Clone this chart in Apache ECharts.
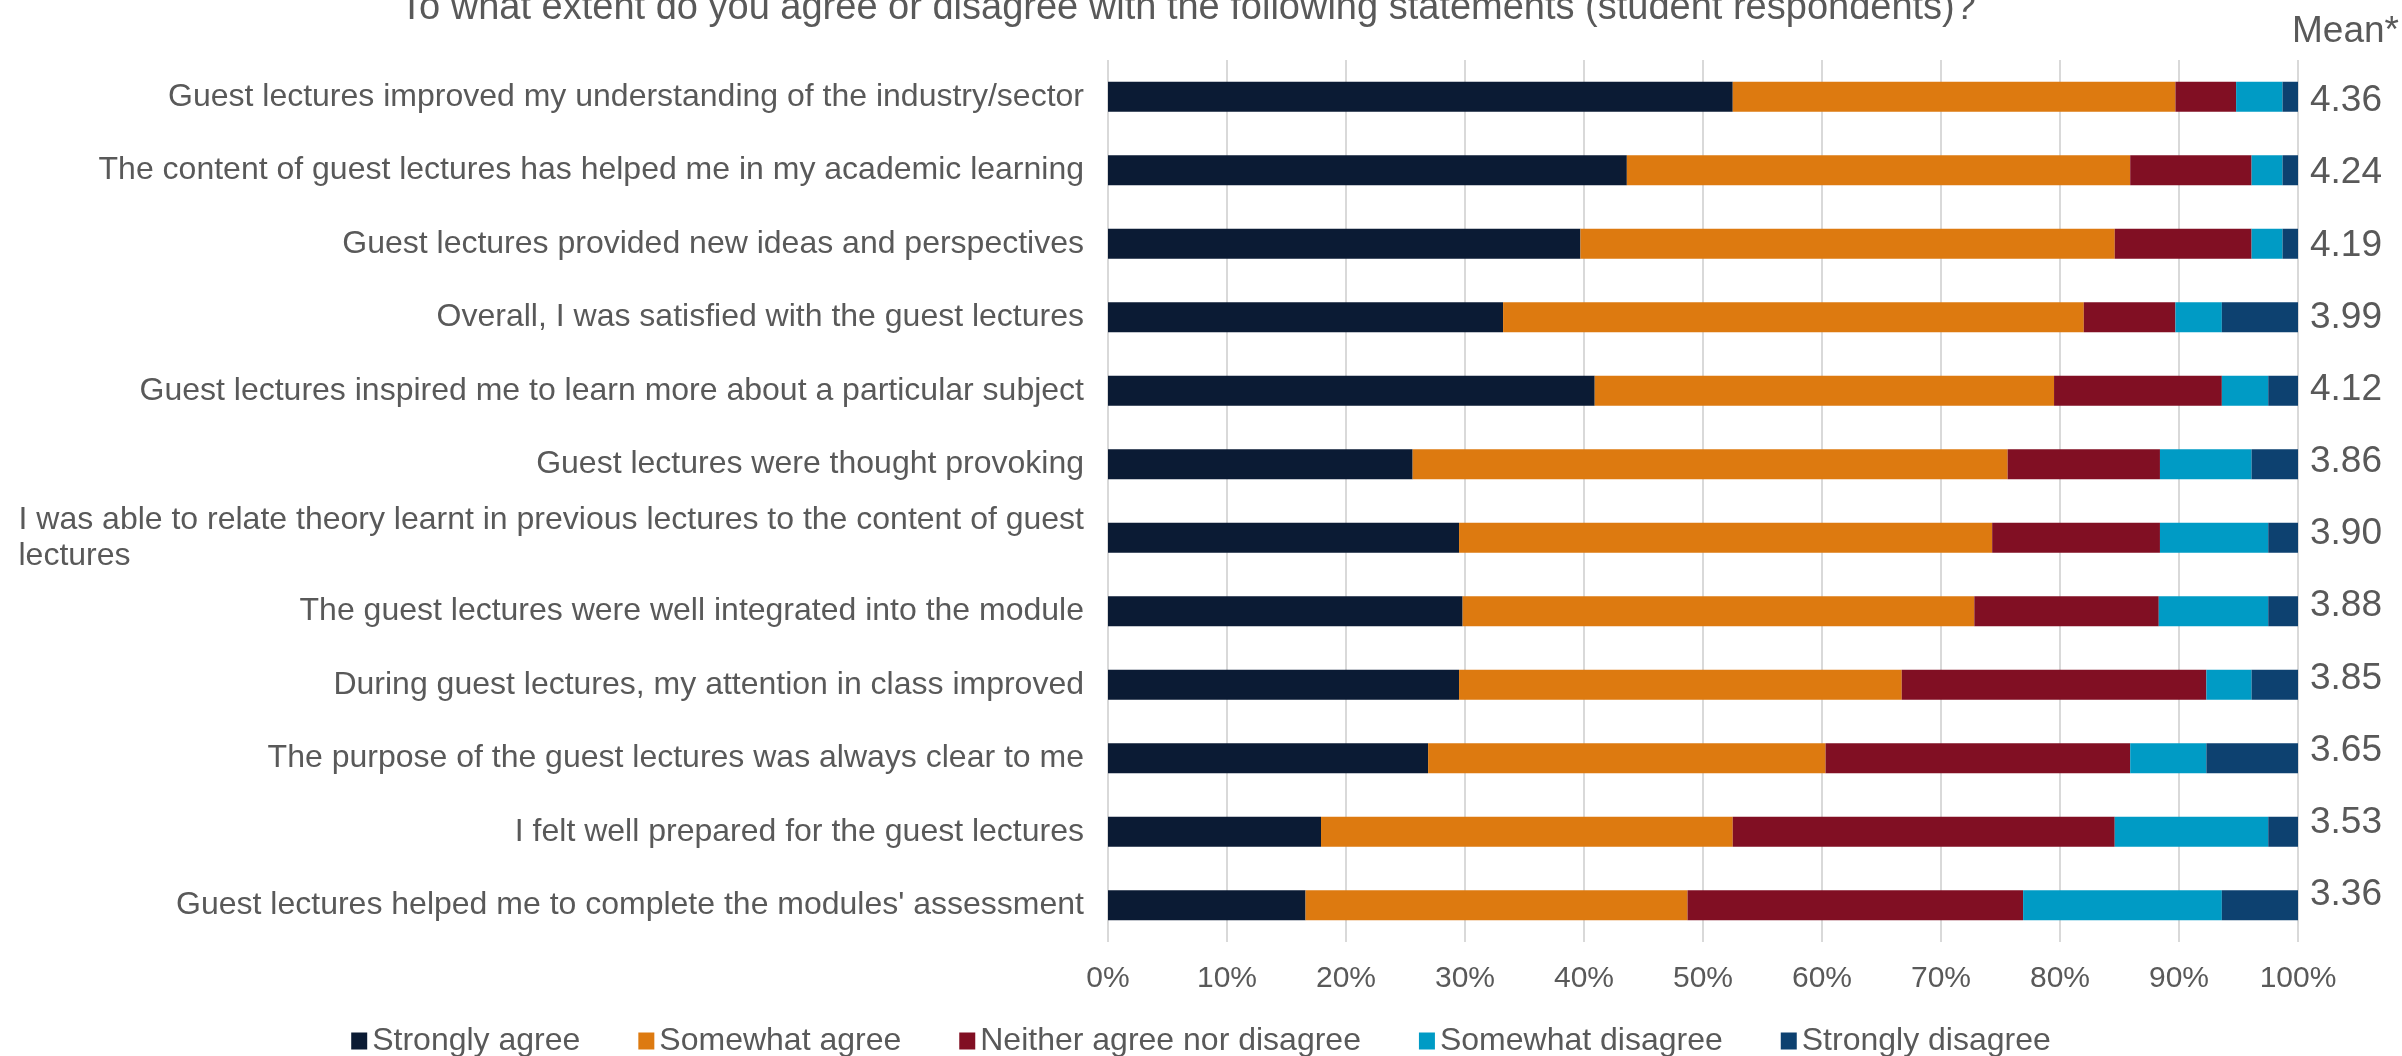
<!DOCTYPE html>
<html>
<head>
<meta charset="utf-8">
<script src="https://cdn.jsdelivr.net/npm/echarts@6/dist/echarts.min.js"></script>
<style>
  html, body { margin: 0; padding: 0; background: #ffffff; }
  #chart { width: 2402px; height: 1056px; }
</style>
</head>
<body>
<div id="chart"></div>
<script>
// Survey statements (top to bottom)
const categories = [
  'Guest lectures improved my understanding of the industry/sector',
  'The content of guest lectures has helped me in my academic learning',
  'Guest lectures provided new ideas and perspectives',
  'Overall, I was satisfied with the guest lectures',
  'Guest lectures inspired me to learn more about a particular subject',
  'Guest lectures were thought provoking',
  'I was able to relate theory learnt in previous lectures to the content of guest\nlectures',
  'The guest lectures were well integrated into the module',
  'During guest lectures, my attention in class improved',
  'The purpose of the guest lectures was always clear to me',
  'I felt well prepared for the guest lectures',
  "Guest lectures helped me to complete the modules' assessment"
];

// Share of responses (%)
const stronglyAgree    = [52.5, 43.6, 39.7, 33.2, 40.9, 25.6, 29.5, 29.8, 29.5, 26.9, 17.9, 16.6];
const somewhatAgree    = [37.2, 42.3, 44.9, 48.8, 38.6, 50.0, 44.8, 43.0, 37.2, 33.4, 34.6, 32.1];
const neither          = [5.1, 10.2, 11.5, 7.7, 14.1, 12.8, 14.1, 15.5, 25.6, 25.6, 32.1, 28.2];
const somewhatDisagree = [3.9, 2.6, 2.6, 3.9, 3.9, 7.7, 9.1, 9.2, 3.8, 6.4, 12.9, 16.7];
const stronglyDisagree = [1.3, 1.3, 1.3, 6.4, 2.5, 3.9, 2.5, 2.5, 3.9, 7.7, 2.5, 6.4];

// Mean score per statement
const means = ['4.36', '4.24', '4.19', '3.99', '4.12', '3.86', '3.90', '3.88', '3.85', '3.65', '3.53', '3.36'];

const seriesNames = ['Strongly agree', 'Somewhat agree', 'Neither agree nor disagree', 'Somewhat disagree', 'Strongly disagree'];
const seriesData = [stronglyAgree, somewhatAgree, neither, somewhatDisagree, stronglyDisagree];
const colors = ['#0B1B34', '#DD7A10', '#810F23', '#009BC5', '#0D4170'];

const FONT = '"Liberation Sans", Arial, sans-serif';
const TEXT = '#595959';

const chart = echarts.init(document.getElementById('chart'), null, { renderer: 'canvas' });

chart.setOption({
  animation: false,
  backgroundColor: '#ffffff',
  color: colors,
  title: {
    text: 'To what extent do you agree or disagree with the following statements (student respondents)?',
    left: 1183,
    textAlign: 'center',
    top: -15,
    textStyle: { fontFamily: FONT, fontSize: 38, fontWeight: 'normal', color: TEXT }
  },
  graphic: [{
    type: 'text',
    left: 2292,
    top: 13,
    style: { text: 'Mean*', font: '37px ' + FONT, fill: TEXT }
  }],
  legend: {
    left: 'center',
    top: 1020,
    icon: 'rect',
    itemWidth: 16,
    itemHeight: 17,
    itemGap: 58,
    textStyle: { fontFamily: FONT, fontSize: 32, color: TEXT },
    data: seriesNames
  },
  grid: [
    { left: 1108, right: 104, top: 60, bottom: 114, containLabel: false },
    { left: 1108, right: 104, top: 65, height: 866, containLabel: false }
  ],
  xAxis: [
    {
      gridIndex: 0,
      type: 'value',
      min: 0,
      max: 100,
      interval: 10,
      axisLine: { show: false },
      axisTick: { show: false },
      splitLine: { show: true, lineStyle: { color: '#D9D9D9', width: 2 } },
      axisLabel: { formatter: '{value}%', fontFamily: FONT, fontSize: 30, color: TEXT, margin: 22 }
    },
    {
      gridIndex: 1,
      type: 'value',
      min: 0,
      max: 1,
      show: false
    }
  ],
  yAxis: [
    {
      gridIndex: 0,
      type: 'category',
      inverse: true,
      data: categories,
      axisLine: { show: false },
      axisTick: { show: false },
      axisLabel: {
        fontFamily: FONT,
        fontSize: 32,
        color: TEXT,
        margin: 24,
        formatter: function (v) {
          if (v.indexOf('\n') < 0) return v;
          return v.split('\n').map(function (s) { return '{l|' + s + '}'; }).join('\n');
        },
        rich: {
          l: { align: 'left', fontFamily: FONT, fontSize: 32, color: TEXT, lineHeight: 36 }
        }
      }
    },
    {
      gridIndex: 1,
      type: 'category',
      inverse: true,
      position: 'right',
      data: means,
      axisLine: { show: false },
      axisTick: { show: false },
      splitLine: { show: false },
      axisLabel: { fontFamily: FONT, fontSize: 37, color: TEXT, margin: 12, align: 'left' }
    }
  ],
  series: seriesNames.map(function (name, i) {
    return {
      name: name,
      type: 'bar',
      stack: 'total',
      xAxisIndex: 0,
      yAxisIndex: 0,
      barWidth: 30,
      data: seriesData[i],
      itemStyle: { color: colors[i] }
    };
  })
});
</script>
</body>
</html>
